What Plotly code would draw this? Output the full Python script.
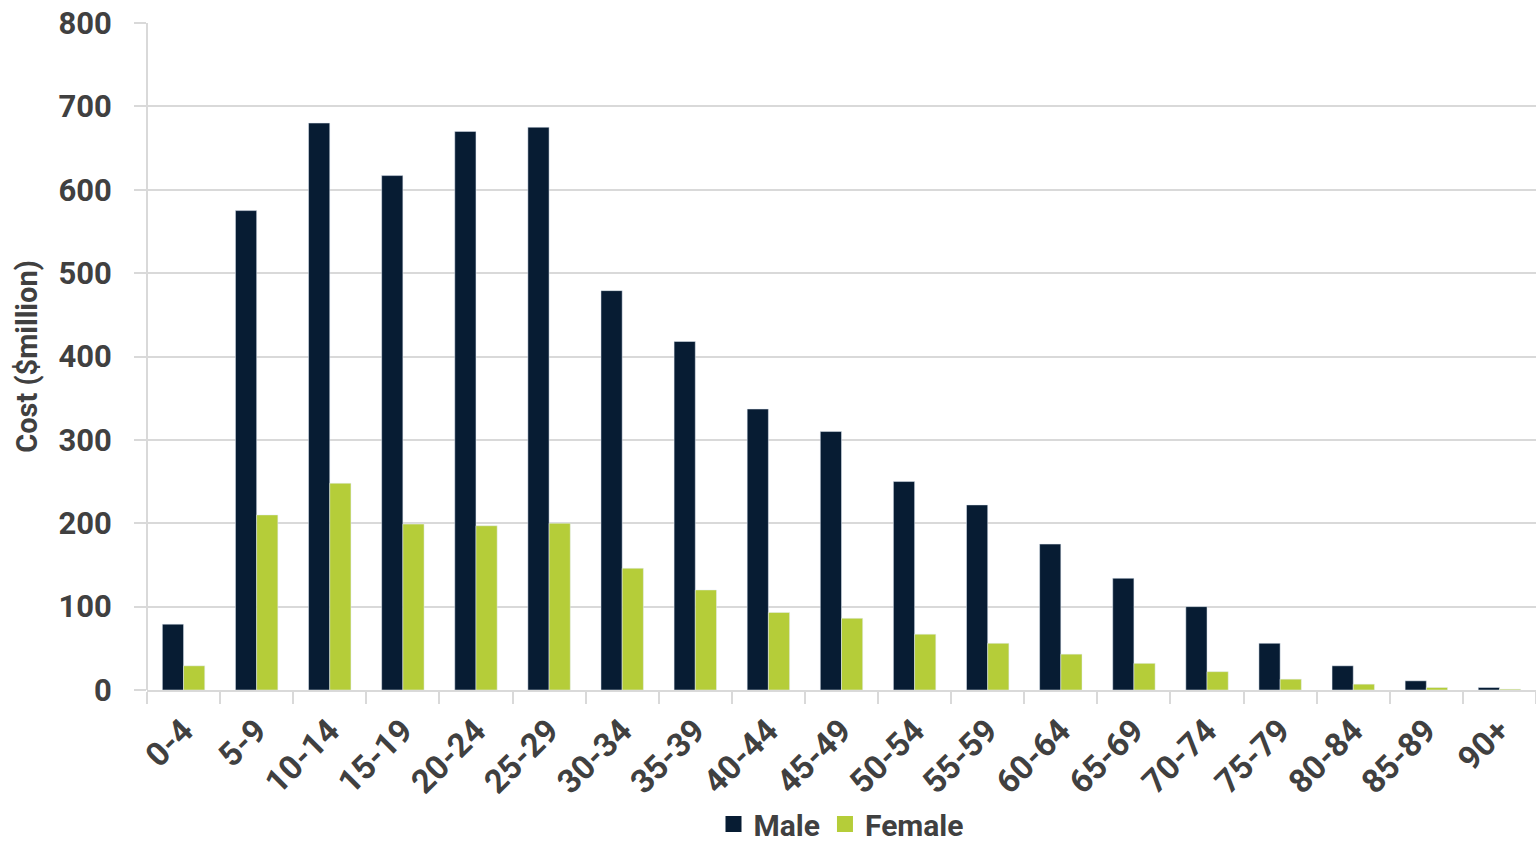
import plotly.graph_objects as go

categories = ["0-4", "5-9", "10-14", "15-19", "20-24", "25-29", "30-34", "35-39",
              "40-44", "45-49", "50-54", "55-59", "60-64", "65-69", "70-74",
              "75-79", "80-84", "85-89", "90+"]
male = [79, 575, 680, 617, 670, 675, 479, 418, 337, 310, 250, 222, 175, 134, 100, 56, 29, 11, 3]
female = [29, 210, 248, 199, 197, 200, 146, 120, 93, 86, 67, 56, 43, 32, 22, 13, 7, 3, 1]
y_ticks = [0, 100, 200, 300, 400, 500, 600, 700, 800]

FONT = "Roboto, sans-serif"
TXT = "#404040"
MALE_C = "#071C33"
FEMALE_C = "#B5CD39"

fig = go.Figure()
fig.add_bar(x=categories, y=male, name="Male", marker=dict(color=MALE_C), showlegend=False)
fig.add_bar(x=categories, y=female, name="Female", marker=dict(color=FEMALE_C), showlegend=False)
# legend entries with larger square swatches
fig.add_scatter(x=[None], y=[None], mode="markers", name="Male",
                marker=dict(symbol="square", size=19, color=MALE_C))
fig.add_scatter(x=[None], y=[None], mode="markers", name="Female",
                marker=dict(symbol="square", size=19, color=FEMALE_C))

fig.update_layout(
    width=1536, height=850,
    margin=dict(l=147, r=0, t=23, b=160, autoexpand=False),
    plot_bgcolor="white", paper_bgcolor="white",
    barmode="group", bargap=0.42, bargroupgap=0,
    font=dict(family=FONT, color=TXT, size=30, weight="bold"),
    legend=dict(orientation="h", x=0.5, xanchor="center", xref="paper",
                y=0.0, yanchor="bottom", yref="container",
                font=dict(family=FONT, size=30, color=TXT, weight="bold"),
                itemwidth=30, traceorder="normal", tracegroupgap=0,
                bgcolor="rgba(0,0,0,0)"),
    showlegend=True,
)
fig.update_yaxes(range=[0, 800], tickvals=y_ticks, showgrid=True, gridcolor="#D9D9D9",
                 gridwidth=2, zeroline=False, showline=False, automargin=False,
                 ticks="outside", ticklen=12, tickcolor="#D9D9D9", tickwidth=2,
                 ticklabelstandoff=16,
                 tickfont=dict(family=FONT, size=31, color=TXT, weight="bold"),
                 title=dict(text="Cost ($million)", standoff=12,
                            font=dict(family=FONT, size=29, color=TXT, weight="bold")))
fig.update_xaxes(type="category", tickson="boundaries", ticks="outside", ticklen=12,
                 tickcolor="#D9D9D9", tickwidth=2, showline=True, linecolor="#D9D9D9",
                 linewidth=2, tickangle=-45, automargin=False, ticklabelstandoff=6,
                 tickfont=dict(family=FONT, size=33, color=TXT, weight="bold"))
# vertical left axis line
fig.add_shape(type="line", xref="paper", yref="paper", x0=0, x1=0, y0=0, y1=1,
              line=dict(color="#D9D9D9", width=2))

fig.write_html("out.html")
